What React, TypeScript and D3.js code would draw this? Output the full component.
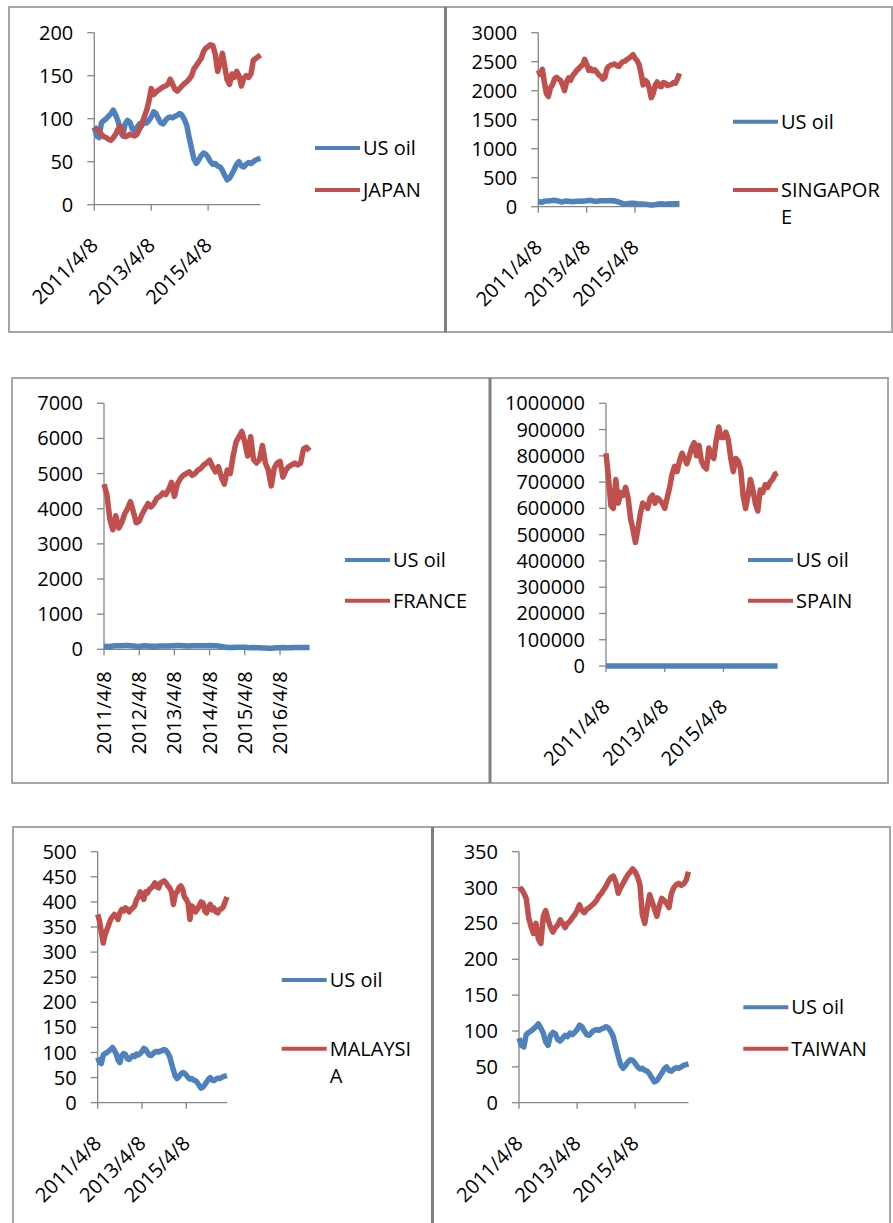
import * as d3 from "d3";

// monthly readings, 2011/4/8 onwards (71 months)
const START = new Date(2011, 3, 8);

const usOil = [
  90, 80, 78, 95, 98, 100, 103, 106, 110, 104,
  97, 85, 80, 94, 98, 96, 88, 86, 90, 94,
  92, 97, 95, 98, 102, 108, 106, 100, 95, 94,
  98, 101, 102, 101, 103, 104, 106, 104, 99, 92,
  78, 65, 53, 48, 52, 57, 60, 59, 55, 50,
  47, 48, 45, 44, 40, 34, 29, 31, 36, 41,
  47, 50, 45, 44, 47, 49, 48, 50, 52, 53,
  54,
];

const japan = [
  90, 88, 86, 82, 79, 78, 76, 75, 78, 82,
  88, 91, 84, 79, 80, 82, 81, 80, 82, 88,
  94, 102, 110, 120, 135, 128, 131, 133, 135, 137,
  138, 140, 146, 140, 134, 132, 135, 138, 141, 143,
  146, 150, 158, 162, 166, 170, 178, 182, 184, 186,
  185, 175, 155, 165, 176, 160, 145, 140, 152, 148,
  155, 150, 138, 147, 150, 148, 152, 168, 170, 172,
  174,
];

const singapore = [
  2350, 2280, 2370, 2150, 1950, 1900, 2050, 2100, 2200, 2230,
  2200, 2180, 2100, 2000, 2150, 2220, 2180, 2260, 2300, 2350,
  2380, 2420, 2450, 2540, 2460, 2350, 2380, 2340, 2360, 2320,
  2270, 2250, 2200, 2230, 2380, 2420, 2440, 2450, 2460, 2430,
  2420, 2470, 2500, 2510, 2540, 2560, 2590, 2620, 2560, 2520,
  2450, 2300, 2100, 2180, 2150, 2050, 1880, 1950, 2100, 2150,
  2080, 2070, 2140, 2130, 2090, 2100, 2110, 2140, 2130, 2200,
  2300,
];

const france = [
  4700, 4400, 3700, 3400, 3800, 3450, 3600, 3850, 4000, 4200,
  3900, 3600, 3650, 3850, 4000, 4150, 4050, 4150, 4300, 4350,
  4450, 4400, 4550, 4750, 4350, 4700, 4850, 4950, 5000, 5050,
  4950, 5000, 5100, 5150, 5250, 5300, 5380, 5200, 5050, 5200,
  4900, 4700, 5100, 5000, 5500, 5900, 6050, 6200, 5900, 5500,
  6050, 5400, 5300, 5400, 5800, 5300, 5100, 4650, 5150, 5300,
  5350, 4900, 5100, 5200, 5250, 5300, 5250, 5300, 5700, 5750,
  5650,
];

const spain = [
  810000, 720000, 610000, 600000, 710000, 620000, 660000, 650000, 680000, 640000,
  560000, 520000, 470000, 520000, 580000, 620000, 610000, 600000, 640000, 650000,
  620000, 640000, 630000, 620000, 600000, 640000, 680000, 730000, 760000, 740000,
  780000, 810000, 790000, 770000, 800000, 830000, 850000, 800000, 840000, 780000,
  760000, 750000, 830000, 800000, 790000, 860000, 910000, 870000, 870000, 890000,
  860000, 790000, 740000, 790000, 780000, 750000, 650000, 600000, 650000, 710000,
  670000, 620000, 590000, 670000, 660000, 690000, 680000, 700000, 710000, 730000,
  735000,
];

const malaysia = [
  375, 362, 340, 318, 335, 345, 355, 365, 370, 375,
  372, 365, 378, 385, 382, 388, 386, 380, 385, 388,
  392, 405, 410, 420, 412, 405, 420, 418, 425, 428,
  432, 438, 430, 428, 438, 440, 442, 438, 432, 428,
  420, 395, 415, 420, 428, 432, 425, 410, 405, 398,
  365, 392, 388, 380, 385, 392, 400, 398, 382, 378,
  390, 395, 384, 388, 380, 378, 385, 386, 390, 400,
  410,
];

const taiwan = [
  295, 298, 292, 285, 258, 245, 236, 250, 228, 222,
  260, 268, 255, 245, 238, 244, 248, 255, 250, 244,
  250, 253, 258, 262, 268, 276, 268, 265, 270, 272,
  275, 278, 282, 288, 292, 297, 302, 309, 314, 316,
  308, 292, 300, 306, 312, 318, 322, 326, 322, 315,
  304, 262, 250, 272, 290, 280, 270, 260, 275, 285,
  282, 278, 272, 292, 300, 304, 306, 303, 305, 310,
  322,
];

const ticksBiennial = ["2011/4/8", "2013/4/8", "2015/4/8"];
const ticksYearly = ["2011/4/8", "2012/4/8", "2013/4/8", "2014/4/8", "2015/4/8", "2016/4/8"];

const BLUE = "#4F81BD";
const RED = "#C0504D";
const AXIS = "#868686";
const FONT = "'Open Sans', 'Liberation Sans', sans-serif";

const dates = usOil.map((_, i) => d3.timeMonth.offset(START, i));
const parseTick = d3.timeParse("%Y/%m/%d");

type Panel = {
  name: string[];
  series: number[];
  yMax: number;
  yStep: number;
  xTicks: string[];
  vertical?: boolean;
  x0: number;
  x1: number;
  yTop: number;
  yBot: number;
  legX: number;
  legY: [number, number];
};

const panels: Panel[] = [
  { name: ["JAPAN"], series: japan, yMax: 200, yStep: 50, xTicks: ticksBiennial,
    x0: 94.3, x1: 260.5, yTop: 32.7, yBot: 204.7, legX: 315, legY: [148, 190] },
  { name: ["SINGAPOR", "E"], series: singapore, yMax: 3000, yStep: 500, xTicks: ticksBiennial,
    x0: 538.3, x1: 679.5, yTop: 32.7, yBot: 206.7, legX: 733, legY: [121.7, 190] },
  { name: ["FRANCE"], series: france, yMax: 7000, yStep: 1000, xTicks: ticksYearly, vertical: true,
    x0: 104, x1: 309.5, yTop: 403.3, yBot: 649.3, legX: 345, legY: [560, 600.7] },
  { name: ["SPAIN"], series: spain, yMax: 1000000, yStep: 100000, xTicks: ticksBiennial,
    x0: 606, x1: 777.5, yTop: 403.3, yBot: 666, legX: 748, legY: [560, 600.7] },
  { name: ["MALAYSI", "A"], series: malaysia, yMax: 500, yStep: 50, xTicks: ticksBiennial,
    x0: 97.7, x1: 227, yTop: 851.7, yBot: 1102.7, legX: 281.7, legY: [980, 1048.7] },
  { name: ["TAIWAN"], series: taiwan, yMax: 350, yStep: 50, xTicks: ticksBiennial,
    x0: 519, x1: 688.5, yTop: 851.7, yBot: 1102.7, legX: 743.3, legY: [1007.3, 1048.7] },
];

function Chart({ p }: { p: Panel }) {
  const x = d3.scaleTime().domain([START, dates[dates.length - 1]]).range([p.x0, p.x1]);
  const y = d3.scaleLinear().domain([0, p.yMax]).range([p.yBot, p.yTop]);
  const line = d3
    .line<number>()
    .x((_, i) => x(dates[i]))
    .y((d) => y(d));
  const yTicks = d3.range(0, p.yMax + p.yStep / 2, p.yStep);

  return (
    <g fontFamily={FONT} fontSize={20} fill="#000">
      {/* y axis */}
      <line x1={p.x0} x2={p.x0} y1={p.yTop} y2={p.yBot} stroke={AXIS} strokeWidth={1.3} />
      {yTicks.map((t) => (
        <g key={t}>
          <line x1={p.x0 - 7} x2={p.x0} y1={y(t)} y2={y(t)} stroke={AXIS} strokeWidth={1.3} />
          <text x={p.x0 - 21} y={y(t)} dy="0.35em" textAnchor="end">
            {t}
          </text>
        </g>
      ))}

      {/* x axis */}
      <line x1={p.x0} x2={p.x1} y1={p.yBot} y2={p.yBot} stroke={AXIS} strokeWidth={1.3} />
      {p.xTicks.map((s) => {
        const tx = x(parseTick(s) as Date);
        return (
          <g key={s}>
            <line x1={tx} x2={tx} y1={p.yBot} y2={p.yBot + 6} stroke={AXIS} strokeWidth={1.3} />
            {p.vertical ? (
              <text transform={`translate(${tx + 7},${p.yBot + 22}) rotate(-90)`} textAnchor="end">
                {s}
              </text>
            ) : (
              <text transform={`translate(${tx + 5},${p.yBot + 42}) rotate(-45)`} textAnchor="end">
                {s}
              </text>
            )}
          </g>
        );
      })}

      {/* series */}
      <path d={line(usOil) || ""} fill="none" stroke={BLUE} strokeWidth={5.5} strokeLinejoin="round" />
      <path d={line(p.series) || ""} fill="none" stroke={RED} strokeWidth={5.5} strokeLinejoin="round" />

      {/* legend */}
      <line x1={p.legX} x2={p.legX + 45} y1={p.legY[0]} y2={p.legY[0]} stroke={BLUE} strokeWidth={4} />
      <text x={p.legX + 48} y={p.legY[0]} dy="0.35em">US oil</text>
      <line x1={p.legX} x2={p.legX + 45} y1={p.legY[1]} y2={p.legY[1]} stroke={RED} strokeWidth={4} />
      {p.name.map((n, i) => (
        <text key={n} x={p.legX + 48} y={p.legY[1] + i * 27} dy="0.35em">
          {n}
        </text>
      ))}
    </g>
  );
}

export default function App() {
  return (
    <svg
      width={893}
      height={1223}
      style={{ position: "absolute", left: 0, top: 0, background: "#fff" }}
    >
      {/* panel frames */}
      <g fill="none" stroke="#a6a6a6" strokeWidth={2}>
        <rect x={9} y={7} width={436} height={325} />
        <rect x={446} y={7} width={446} height={325} />
        <rect x={12} y={378} width={478} height={405} />
        <rect x={490} y={378} width={398} height={405} />
        <rect x={13} y={827} width={419} height={420} />
        <rect x={433} y={827} width={457} height={420} />
      </g>
      <g stroke="#808080" strokeWidth={3}>
        <line x1={445.5} x2={445.5} y1={7} y2={332} />
        <line x1={490} x2={490} y1={378} y2={783} />
        <line x1={432.5} x2={432.5} y1={827} y2={1223} />
      </g>
      {panels.map((p) => (
        <Chart key={p.name.join("")} p={p} />
      ))}
    </svg>
  );
}
